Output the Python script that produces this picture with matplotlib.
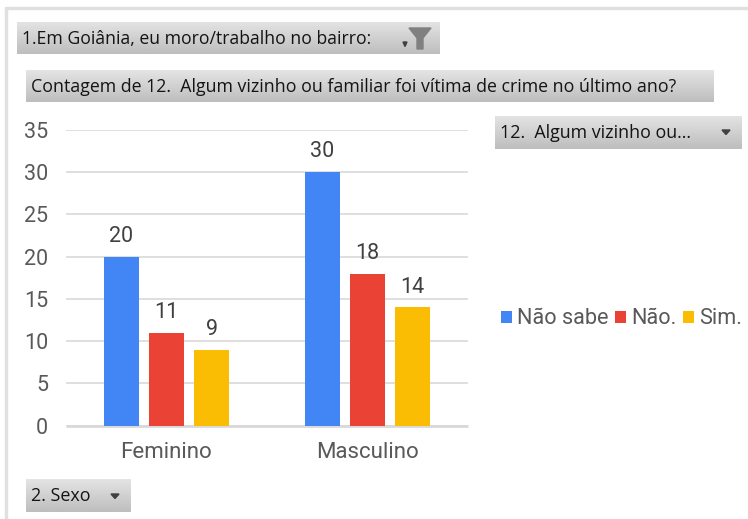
import matplotlib
matplotlib.use("Agg")
import matplotlib.pyplot as plt
import numpy as np
from matplotlib.patches import Polygon, Rectangle

W, H = 748, 519
categories = ["Feminino", "Masculino"]
series_names = ["Não sabe", "Não.", "Sim."]
nao_sabe = [20, 30]
nao = [11, 18]
sim = [9, 14]
series_values = [nao_sabe, nao, sim]
colors = ["#4285F4", "#EA4335", "#FBBC04"]
yticks = [0, 5, 10, 15, 20, 25, 30, 35]

CHART_FONT = "Roboto"
UI = ["Open Sans", "DejaVu Sans"]
GREY = "#595959"

fig = plt.figure(figsize=(W / 100, H / 100), dpi=100, facecolor="white")


def fx(px):
    return px / W


def fy(py):
    return 1 - py / H


ax = fig.add_axes([fx(66), fy(425.5), (468 - 66) / W, (425.5 - 130) / H])
x = np.arange(len(categories))
step, width = 0.224, 0.174
for i, (vals, c, name) in enumerate(zip(series_values, colors, series_names)):
    bars = ax.bar(x + (i - 1) * step, vals, width, color=c, label=name, zorder=3)
    for b, v in zip(bars, vals):
        ax.annotate(str(v), (b.get_x() + b.get_width() / 2, v), xytext=(0, 7),
                    textcoords="offset points", ha="center", va="bottom",
                    fontsize=15.5, color="#404040", family=CHART_FONT, zorder=5)
ax.set_xlim(-0.5, 1.5)
ax.set_ylim(0, 35)
ax.set_yticks(yticks)
ax.set_xticks(x, categories)
ax.tick_params(length=0)
ax.tick_params(axis="y", labelsize=15.5, labelcolor=GREY, pad=13)
ax.tick_params(axis="x", labelsize=16, labelcolor=GREY, pad=12)
for lab in ax.get_xticklabels() + ax.get_yticklabels():
    lab.set_family(CHART_FONT)
ax.grid(axis="y", color="#D9D9D9", lw=1.2, zorder=0)
ax.set_axisbelow(True)
for s in ax.spines.values():
    s.set_visible(False)
ax.spines["bottom"].set_visible(True)
ax.spines["bottom"].set_color("#D9D9D9")
ax.spines["bottom"].set_linewidth(2)
ax.spines["bottom"].set_capstyle("butt")


def button(x0, y0, x1, y1, text, fs=12.7, tx=None):
    grad = np.linspace(0, 1, 32).reshape(-1, 1)
    top, bot = np.array([228, 228, 228]) / 255, np.array([190, 190, 190]) / 255
    img = (top + (bot - top) * grad[..., None]).reshape(32, 1, 3)
    bax = fig.add_axes([fx(x0), fy(y1), (x1 - x0) / W, (y1 - y0) / H], zorder=4)
    bax.imshow(img, aspect="auto", extent=(0, 1, 0, 1))
    bax.axis("off")
    fig.text(fx(tx if tx else x0 + 5), fy((y0 + y1) / 2 + 0.5), text, fontsize=fs,
             family=UI, color="#141414", va="center", ha="left", zorder=6)


def tri(cx, cy, s=4):
    fig.add_artist(Polygon([[fx(cx - s), fy(cy - 2)], [fx(cx + s), fy(cy - 2)], [fx(cx), fy(cy + 2.5)]],
                           closed=True, color="#404040", transform=fig.transFigure, zorder=7))


button(17, 22, 440, 54, "1.Em Goiânia, eu moro/trabalho no bairro:", tx=22)
button(26, 70, 714, 102, "Contagem de 12.  Algum vizinho ou familiar foi vítima de crime no último ano?", fs=12.8, tx=31)
button(495, 116, 742, 149, "12.  Algum vizinho ou...", fs=12.9, tx=500)
button(26, 479, 131, 512, "2. Sexo", fs=12.9, tx=31)
tri(726, 132)
tri(115, 496)
tri(405, 44, 2)
fig.add_artist(Polygon([[fx(409), fy(28)], [fx(431), fy(28)], [fx(423), fy(38)], [fx(423), fy(49)],
                        [fx(417), fy(49)], [fx(417), fy(38)]], closed=True, color="#808080",
                       transform=fig.transFigure, zorder=7))
# chart frame, left and top edges
fig.add_artist(Rectangle((fx(5), 0), 2 / W, fy(8), color="#E0E0E0", transform=fig.transFigure))
fig.add_artist(Rectangle((fx(5), fy(9)), 743 / W, 2 / H, color="#E0E0E0", transform=fig.transFigure))

handles, labels = ax.get_legend_handles_labels()
leg = fig.legend(handles, labels, loc="center left", bbox_to_anchor=(fx(501), fy(319)), frameon=False,
                 ncol=3, handlelength=0.52, handleheight=0.52, handletextpad=0.24,
                 columnspacing=0.28, borderpad=0, borderaxespad=0,
                 prop={"family": CHART_FONT, "size": 15.6}, labelcolor=GREY)

fig.savefig("out.png", dpi=100, facecolor="white")
